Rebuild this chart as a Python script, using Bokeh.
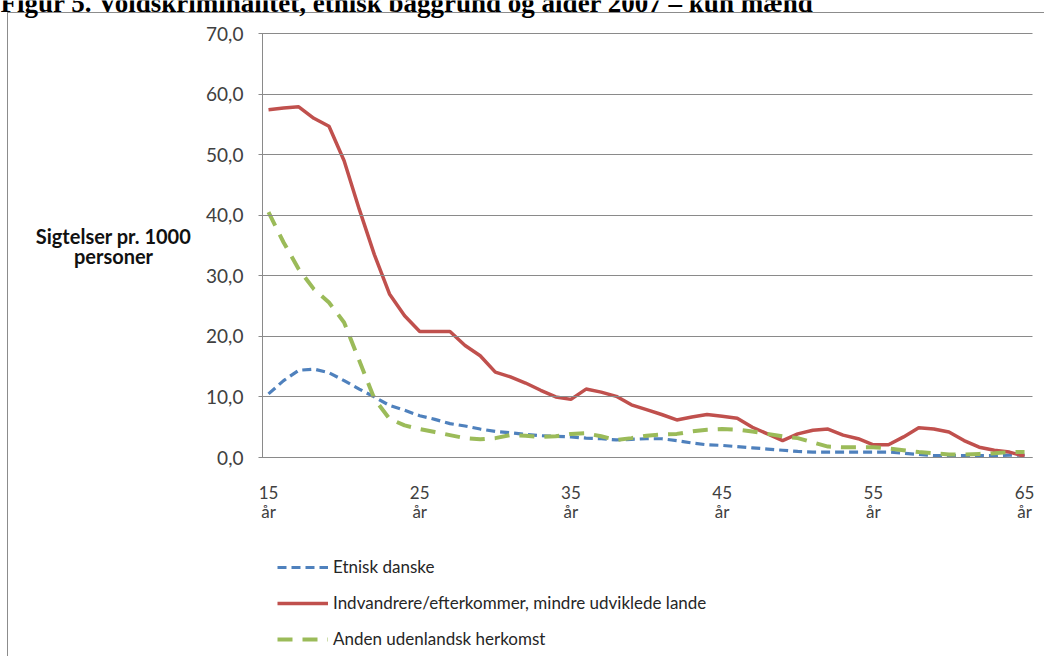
from bokeh.plotting import figure
from bokeh.models import (Range1d, FixedTicker, CustomJSTickFormatter, Label,
                          Legend, LegendItem, ColumnDataSource)
from bokeh.embed import file_html
from bokeh.resources import INLINE

ages = [15, 16, 17, 18, 19, 20, 21, 22, 23, 24,
        25, 26, 27, 28, 29, 30, 31, 32, 33, 34,
        35, 36, 37, 38, 39, 40, 41, 42, 43, 44,
        45, 46, 47, 48, 49, 50, 51, 52, 53, 54,
        55, 56, 57, 58, 59, 60, 61, 62, 63, 64, 65]

etnisk_danske = [10.5, 12.7, 14.4, 14.6, 14.0, 12.7, 11.3, 10.0, 8.6, 7.8,
                 6.9, 6.3, 5.6, 5.2, 4.7, 4.3, 4.1, 3.8, 3.6, 3.5,
                 3.4, 3.2, 3.1, 2.9, 3.0, 3.1, 3.1, 2.8, 2.4, 2.1,
                 2.0, 1.8, 1.6, 1.4, 1.2, 1.0, 0.9, 0.9, 0.9, 0.9,
                 0.9, 0.9, 0.7, 0.5, 0.3, 0.3, 0.3, 0.3, 0.3, 0.4, 0.4]

indvandrere = [57.4, 57.7, 57.9, 56.0, 54.7, 49.0, 41.0, 33.5, 27.0, 23.4,
               20.8, 20.8, 20.8, 18.5, 16.8, 14.1, 13.3, 12.3, 11.1, 10.0,
               9.6, 11.3, 10.8, 10.1, 8.7, 7.9, 7.1, 6.2, 6.7, 7.1,
               6.8, 6.5, 5.0, 3.9, 2.8, 3.9, 4.5, 4.7, 3.7, 3.1,
               2.1, 2.1, 3.4, 4.9, 4.7, 4.2, 2.8, 1.7, 1.2, 0.9, 0.2]

anden = [40.5, 35.5, 31.1, 27.8, 25.6, 22.3, 16.0, 9.7, 6.4, 5.3,
         4.7, 4.2, 3.7, 3.2, 3.0, 3.2, 3.7, 3.6, 3.4, 3.5,
         3.9, 4.0, 3.5, 2.9, 3.2, 3.6, 3.8, 3.9, 4.3, 4.6,
         4.7, 4.6, 4.3, 3.9, 3.5, 3.2, 2.5, 1.8, 1.7, 1.7,
         1.7, 1.5, 1.2, 0.9, 0.7, 0.5, 0.5, 0.6, 0.7, 0.9, 0.9]

x_ticks = [15, 25, 35, 45, 55, 65]
y_ticks = [0, 10, 20, 30, 40, 50, 60, 70]
x_bounds = (14.6, 65.5)
y_bounds = (0, 70)

series_names = ["Etnisk danske",
                "Indvandrere/efterkommer, mindre udviklede lande",
                "Anden udenlandsk herkomst"]

title_text = "Figur 5. Voldskriminalitet, etnisk baggrund og alder 2007 \u2013 kun m\u00e6nd"
ylabel_lines = ["Sigtelser pr. 1000", "personer"]

FONT = "Lato"
GRID = "#8a8a8a"
TXT = "#404040"

W, H = 1044, 656
p = figure(width=W, height=H, output_backend="svg", toolbar_location=None,
           x_range=Range1d(-2.725, 66.32), y_range=Range1d(-32.85, 75.45),
           min_border=0, title=None)
p.outline_line_color = None
p.background_fill_alpha = 0
p.border_fill_alpha = 0
# white page with the outer chart frame (left and top edges)
p.styles = {
    "background": ("linear-gradient(#8c8c8c, #8c8c8c) 7px 12px / 1px 100% no-repeat, "
                   "linear-gradient(#8c8c8c, #8c8c8c) 7px 12px / 100% 1px no-repeat, "
                   "white"),
}

p.xgrid.visible = False
p.ygrid.visible = False

# y axis: drawn at the plot-area edge; its inward ticks form the gridlines
p.yaxis.fixed_location = x_bounds[0]
p.yaxis.bounds = y_bounds
p.yaxis.ticker = FixedTicker(ticks=y_ticks)
p.yaxis.formatter = CustomJSTickFormatter(code="return tick.toFixed(1).replace('.', ',');")
p.yaxis.axis_line_color = GRID
p.yaxis.major_tick_line_color = GRID
p.yaxis.major_tick_line_width = 1
p.yaxis.major_tick_out = 4
p.yaxis.major_tick_in = 770
p.yaxis.minor_tick_line_color = None
p.yaxis.major_label_text_font = FONT
p.yaxis.major_label_text_font_size = "19px"
p.yaxis.major_label_text_color = TXT
p.yaxis.major_label_standoff = 15

# x axis at y = 0
p.xaxis.fixed_location = 0
p.xaxis.bounds = x_bounds
p.xaxis.ticker = FixedTicker(ticks=x_ticks)
p.xaxis.formatter = CustomJSTickFormatter(code="return tick + '\\n\u00e5r';")
p.xaxis.axis_line_color = GRID
p.xaxis.major_tick_line_color = None
p.xaxis.major_tick_out = 0
p.xaxis.major_tick_in = 0
p.xaxis.minor_tick_line_color = None
p.xaxis.major_label_text_font = FONT
p.xaxis.major_label_text_font_size = "17px"
p.xaxis.major_label_text_line_height = 0.95
p.xaxis.major_label_text_color = TXT
p.xaxis.major_label_standoff = 24

src = ColumnDataSource(dict(age=ages, dk=etnisk_danske, ind=indvandrere, an=anden))

r_blue = p.line("age", "dk", source=src, line_color="#4F81BD", line_width=3.2,
                line_dash="9 5")
r_red = p.line("age", "ind", source=src, line_color="#C0504D", line_width=3.5)
r_green = p.line("age", "an", source=src, line_color="#9BBB59", line_width=4,
                 line_dash="15 10")

legend = Legend(items=[LegendItem(label=series_names[0], renderers=[r_blue]),
                       LegendItem(label=series_names[1], renderers=[r_red]),
                       LegendItem(label=series_names[2], renderers=[r_green])],
                location=(277, 7), orientation="vertical",
                glyph_width=51, glyph_height=20, label_height=20,
                spacing=15, padding=0, margin=0, label_standoff=5,
                border_line_color=None, background_fill_alpha=0,
                label_text_font=FONT, label_text_font_size="17px",
                label_text_color="#262626")
p.add_layout(legend, "center")

# y axis title (two centred lines)
for i, t in enumerate(ylabel_lines):
    p.add_layout(Label(x=113, y=H - 235 - 20 * i, x_units="screen", y_units="screen",
                       text=t, text_font=FONT, text_font_style="bold",
                       text_font_size="20px", text_color="#111111",
                       text_align="center", text_baseline="middle"))

# title, cut off at the top edge as in the reference
p.add_layout(Label(x=0, y=H - 2.5, x_units="screen", y_units="screen",
                   text=title_text, text_font="Liberation Serif",
                   text_font_style="bold", text_font_size="27px",
                   text_color="black", text_baseline="alphabetic"))

open("out.html", "w").write(file_html(p, INLINE))
